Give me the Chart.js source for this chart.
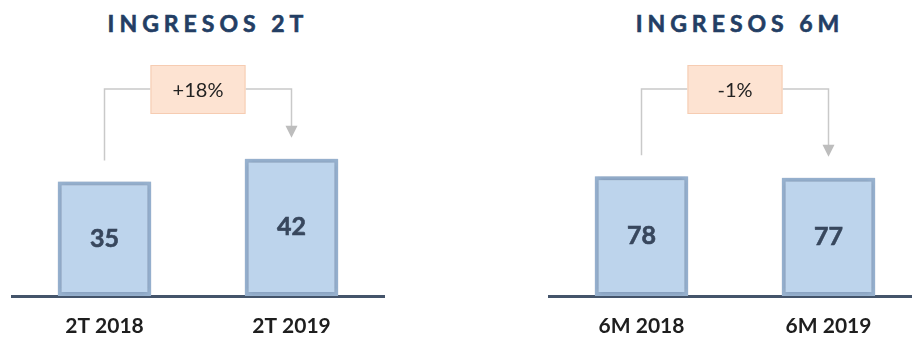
<!DOCTYPE html>
<html>
<head>
<meta charset="utf-8">
<script src="https://cdn.jsdelivr.net/npm/chart.js@4.4.0/dist/chart.umd.min.js"></script>
<style>
  html, body { margin: 0; padding: 0; background: #fff; overflow: hidden; }
  body { width: 912px; height: 339px; position: relative; font-family: Lato, sans-serif; }
  .title {
    position: absolute; top: 9px; width: 374px; text-align: center;
    font-weight: bold; font-size: 23px; letter-spacing: 5px; color: #233e64;
    -webkit-text-stroke: 0.6px #233e64;
  }
  .panel { position: absolute; top: 0; width: 374px; height: 339px; }
</style>
</head>
<body>
<div class="title" style="left:21px">INGRESOS 2T</div>
<div class="title" style="left:553px">INGRESOS 6M</div>
<div class="panel" style="left:11px"><canvas id="chart2T"></canvas></div>
<div class="panel" style="left:548px"><canvas id="chart6M"></canvas></div>
<script>
// ========== DATA ==========
const labels2T = ['2T 2018', '2T 2019'];
const values2T = [35, 42];
const change2T = '+18%';

const labels6M = ['6M 2018', '6M 2019'];
const values6M = [78, 77];
const change6M = '-1%';

// ========== BAR SHADOW PLUGIN ==========
const shadowPlugin = {
  id: 'barShadow',
  beforeDatasetsDraw(chart) {
    const ctx = chart.ctx;
    ctx.save();
    ctx.shadowColor = 'rgba(70, 95, 130, 0.45)';
    ctx.shadowBlur = 5;
  },
  afterDatasetsDraw(chart) {
    chart.ctx.restore();
  }
};

// ========== BRACKET + VALUE LABELS PLUGIN ==========
const bracketPlugin = {
  id: 'bracket',
  afterDatasetsDraw(chart, args, opts) {
    const ctx = chart.ctx;
    const bars = chart.getDatasetMeta(0).data;
    const values = chart.data.datasets[0].data;

    ctx.save();
    // values inside bars
    ctx.font = 'bold 25px Lato';
    ctx.fillStyle = '#38475d';
    ctx.strokeStyle = '#38475d';
    ctx.lineWidth = 0.6;
    ctx.textAlign = 'center';
    ctx.textBaseline = 'middle';
    bars.forEach((bar, i) => {
      const y = (bar.y + bar.base) / 2;
      ctx.fillText(values[i], bar.x, y);
      ctx.strokeText(values[i], bar.x, y);
    });

    // connector lines
    const x1 = bars[0].x;
    const x2 = bars[1].x;
    const mid = (x1 + x2) / 2;
    const lineY = 89;
    const boxW = 95, boxH = 49, boxTop = 65;
    const gap = 21;

    ctx.strokeStyle = '#c9c9c9';
    ctx.lineWidth = 1.5;
    ctx.beginPath();
    ctx.moveTo(x1, bars[0].y - gap);
    ctx.lineTo(x1, lineY);
    ctx.lineTo(mid - boxW / 2, lineY);
    ctx.moveTo(mid + boxW / 2, lineY);
    ctx.lineTo(x2, lineY);
    ctx.lineTo(x2, bars[1].y - gap - 10);
    ctx.stroke();

    // arrow head
    const tip = bars[1].y - gap;
    ctx.fillStyle = '#bdbdbd';
    ctx.beginPath();
    ctx.moveTo(x2 - 6, tip - 12);
    ctx.lineTo(x2 + 6, tip - 12);
    ctx.lineTo(x2, tip);
    ctx.closePath();
    ctx.fill();

    // change box
    ctx.fillStyle = '#fde3d2';
    ctx.fillRect(mid - boxW / 2, boxTop, boxW, boxH);
    ctx.strokeStyle = '#f6ccb2';
    ctx.lineWidth = 1;
    ctx.strokeRect(mid - boxW / 2 + 0.5, boxTop + 0.5, boxW - 1, boxH - 1);
    ctx.fillStyle = '#222';
    ctx.font = '20px Lato';
    ctx.fillText(opts.text, mid, boxTop + boxH / 2 + 1);
    ctx.restore();
  }
};

// ========== CHART OPTIONS ==========
function makeOptions(yMax, changeText) {
  return {
    responsive: true,
    maintainAspectRatio: false,
    animation: false,
    layout: { padding: 0 },
    plugins: {
      legend: { display: false },
      tooltip: { enabled: false },
      bracket: { text: changeText }
    },
    scales: {
      x: {
        grid: { display: false, drawTicks: false },
        border: { display: true, color: '#44546a', width: 3 },
        ticks: { color: '#1e1e1e', font: { family: 'Lato', size: 21, weight: 'bold' }, padding: 18 },
        afterFit: scale => { scale.height = 43; }
      },
      y: { display: false, min: 0, max: yMax }
    }
  };
}

function makeDataset(values) {
  return {
    data: values,
    backgroundColor: '#bdd4ec',
    borderColor: '#98b2cf',
    borderWidth: 4,
    borderSkipped: false,
    categoryPercentage: 1,
    barPercentage: 0.5
  };
}

// ========== INIT CHARTS ==========
new Chart(document.getElementById('chart2T'), {
  type: 'bar',
  data: { labels: labels2T, datasets: [makeDataset(values2T)] },
  options: makeOptions(90.5, change2T),
  plugins: [shadowPlugin, bracketPlugin]
});

new Chart(document.getElementById('chart6M'), {
  type: 'bar',
  data: { labels: labels6M, datasets: [makeDataset(values6M)] },
  options: makeOptions(192.7, change6M),
  plugins: [shadowPlugin, bracketPlugin]
});
</script>
</body>
</html>
